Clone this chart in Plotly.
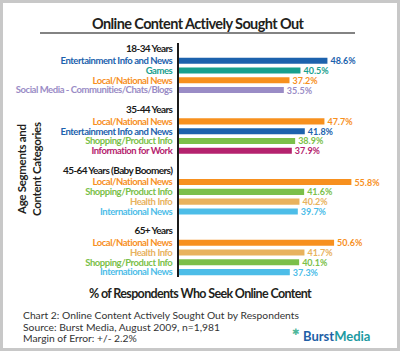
import plotly.graph_objects as go

# ---------------- data ----------------
groups = ["18-34 Years", "35-44 Years", "45-64 Years (Baby Boomers)", "65+ Years"]
cats_1834 = ["Entertainment Info and News", "Games", "Local/National News",
             "Social Media - Communities/Chats/Blogs"]
vals_1834 = [48.6, 40.5, 37.2, 35.5]
cats_3544 = ["Local/National News", "Entertainment Info and News",
             "Shopping/Product Info", "Information for Work"]
vals_3544 = [47.7, 41.8, 38.9, 37.9]
cats_4564 = ["Local/National News", "Shopping/Product Info", "Health Info",
             "International News"]
vals_4564 = [55.8, 41.6, 40.2, 39.7]
cats_65 = ["Local/National News", "Health Info", "Shopping/Product Info",
           "International News"]
vals_65 = [50.6, 41.7, 40.1, 37.3]

title = "Online Content Actively Sought Out"
y_title = ["Age Segments and", "Content Categories"]
x_title = "% of Respondents Who Seek Online Content"
footer = ["Chart 2: Online Content Actively Sought Out by Respondents",
          "Source: Burst Media, August 2009, n=1,981",
          "Margin of Error: +/- 2.2%"]

COLORS = {
    "Entertainment Info and News": "#1c62ad",
    "Games": "#17a08e",
    "Local/National News": "#f7901e",
    "Social Media - Communities/Chats/Blogs": "#9a8cc6",
    "Shopping/Product Info": "#7bbf4a",
    "Information for Work": "#b5226e",
    "Health Info": "#e8b25e",
    "International News": "#4dbde8",
}

# ---------------- layout geometry ----------------
W_IMG, H_IMG = 400, 351
L, R, T, B = 179, 15, 43, 74
FONT = "Lato"


def px(x):
    return x / W_IMG


def py(y):
    return 1 - y / H_IMG


def tight(text, ls):
    return f"<span style='letter-spacing:{ls}px'>{text}</span>"


group_cats = [cats_1834, cats_3544, cats_4564, cats_65]
group_vals = [vals_1834, vals_3544, vals_4564, vals_65]

GROUP_STEP, FIRST_OFF = 6.2, 1.2
bar_y, bar_x, bar_c = [], [], []
tickvals, ticktext = [], []
for g, (name, cats, vals) in enumerate(zip(groups, group_cats, group_vals)):
    hy = g * GROUP_STEP
    tickvals.append(hy)
    ticktext.append(f"<span style='font-size:10px;color:#1a1a1a;letter-spacing:-0.6px'>"
                    f"<b>{name}</b></span>")
    for k, (c, v) in enumerate(zip(cats, vals)):
        yy = hy + FIRST_OFF + k
        bar_y.append(yy)
        bar_x.append(v)
        bar_c.append(COLORS[c])
        tickvals.append(yy)
        ticktext.append(f"<span style='color:{COLORS[c]};letter-spacing:-0.45px'>"
                        f"<b>{c}</b></span>")

fig = go.Figure()
fig.add_trace(go.Bar(
    x=bar_x, y=bar_y, orientation="h",
    marker=dict(color=bar_c, line=dict(width=0)),
    width=0.62,
    texttemplate="%{x:.1f}%",
    textposition="outside",
    constraintext="none",
    cliponaxis=False,
    textfont=dict(family=FONT, size=9, color=bar_c, weight="bold"),
    hoverinfo="skip",
))

annotations = [
    dict(text=tight(title, -0.6), x=px(198), y=py(23), xref="paper", yref="paper",
         showarrow=False, xanchor="center", yanchor="middle",
         font=dict(family=FONT, size=14.5, color="#231f20", weight="bold")),
    dict(text="<br>".join(tight(t, -0.3) for t in y_title),
         x=px(29), y=py(169), xref="paper", yref="paper",
         showarrow=False, xanchor="center", yanchor="middle", textangle=-90,
         font=dict(family=FONT, size=11.5, color="#231f20", weight="bold")),
    dict(text=tight(x_title, -0.65), x=px(201), y=py(293), xref="paper", yref="paper",
         showarrow=False, xanchor="center", yanchor="middle",
         font=dict(family=FONT, size=12.5, color="#231f20", weight="bold")),
]
for i, line in enumerate(footer):
    annotations.append(dict(
        text=line, x=px(21), y=py(315 + i * 11.5), xref="paper", yref="paper",
        showarrow=False, xanchor="left", yanchor="middle",
        font=dict(family=FONT, size=10.3, color="#333333")))
annotations.append(dict(
    text="<span style='color:#1f5fa6'>Burst</span><span style='color:#1c9aa2'>Media</span>",
    x=px(301), y=py(336), xref="paper", yref="paper", showarrow=False,
    xanchor="left", yanchor="middle",
    font=dict(family=FONT, size=13, weight="bold")))
annotations.append(dict(
    text="✱", x=px(296), y=py(332), xref="paper", yref="paper", showarrow=False,
    xanchor="center", yanchor="middle",
    font=dict(family="DejaVu Sans", size=9, color="#4fb79a")))

shapes = [
    dict(type="line", xref="paper", yref="paper",
         x0=px(40), x1=px(355), y0=py(33), y1=py(33),
         line=dict(color="#5a5a5a", width=1.6)),
    dict(type="rect", xref="paper", yref="paper",
         x0=px(1.5), x1=px(398.5), y0=py(1.5), y1=py(349.5),
         line=dict(color="#c8c8c8", width=3)),
]

fig.update_layout(
    width=W_IMG, height=H_IMG,
    margin=dict(l=0, r=0, t=0, b=0, pad=0),
    paper_bgcolor="white", plot_bgcolor="white",
    showlegend=False,
    font=dict(family=FONT, size=9.5),
    annotations=annotations,
    shapes=shapes,
    xaxis=dict(range=[4, 65.9], visible=False, fixedrange=True,
               domain=[L / W_IMG, (W_IMG - R) / W_IMG]),
    yaxis=dict(range=[23.3, -0.61], tickvals=tickvals, ticktext=ticktext,
               domain=[B / H_IMG, 1 - T / H_IMG],
               showline=True, linecolor="#1a1a1a", linewidth=1.5,
               showgrid=False, zeroline=False, ticks="",
               tickfont=dict(family=FONT, size=9.5),
               ticklabelstandoff=3, automargin=False, fixedrange=True),
)

fig.write_html("out.html")
